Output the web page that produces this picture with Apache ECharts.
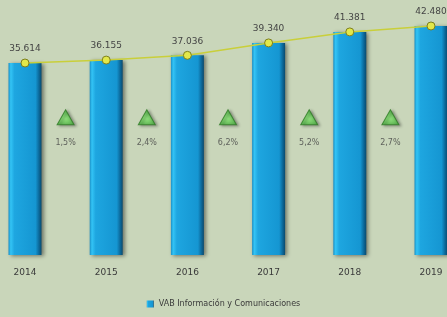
<!DOCTYPE html>
<html><head><meta charset="utf-8">
<script src="https://cdn.jsdelivr.net/npm/echarts@6/dist/echarts.min.js"></script>
<style>html,body{margin:0;padding:0;background:#c9d6ba;}#c{width:447px;height:317px;}</style>
</head><body><div id="c"></div>
<script>
const years = ['2014','2015','2016','2017','2018','2019'];
const vab = [35614, 36155, 37036, 39340, 41381, 42480];
const gapLabels = ['1,5%','2,4%','6,2%','5,2%','2,7%'];
const growth = [1.5, 2.4, 6.2, 5.2, 2.7];
const seriesName = 'VAB Información y Comunicaciones';

const fmt = v => { const s = String(v); return s.slice(0, s.length-3) + '.' + s.slice(-3); };

const chart = echarts.init(document.getElementById('c'));
chart.setOption({
  backgroundColor: '#c9d6ba',
  animation: false,
  textStyle: { fontFamily: 'DejaVu Sans' },
  grid: { left: 25, right: 16, top: 0, bottom: 62, containLabel: false },
  xAxis: [
    { type: 'category', data: years, boundaryGap: false,
      axisLine: { show: false }, axisTick: { show: false }, splitLine: { show: false },
      axisLabel: { color: '#3a3a3a', fontSize: 9, margin: 13 } },
    { type: 'category', data: gapLabels, boundaryGap: true, show: false, position: 'bottom' }
  ],
  yAxis: [
    { type: 'value', min: 0, max: 47300, show: false },
    { type: 'value', min: 0, max: 100, show: false }
  ],
  legend: {
    bottom: 4, left: 'center', itemWidth: 7, itemHeight: 7, itemGap: 4,
    data: [{ name: seriesName, icon: 'rect' }],
    textStyle: { color: '#3a3a3a', fontSize: 8 }
  },
  series: [
    { name: seriesName, type: 'bar', data: vab, barWidth: 33, xAxisIndex: 0, yAxisIndex: 0,
      itemStyle: {
        color: new echarts.graphic.LinearGradient(0, 0, 1, 0, [
          { offset: 0, color: '#1a8fc6' },
          { offset: 0.07, color: '#33c4f5' },
          { offset: 0.18, color: '#1ea6e0' },
          { offset: 0.82, color: '#1596d2' },
          { offset: 0.92, color: '#0c6a9c' },
          { offset: 1, color: '#0a4a6e' }
        ]),
        shadowColor: 'rgba(0,0,0,0.45)', shadowBlur: 4, shadowOffsetX: 2, shadowOffsetY: 1
      }
    },
    { name: 'line', type: 'line', data: vab, xAxisIndex: 0, yAxisIndex: 0,
      symbol: 'circle', symbolSize: 8, z: 5,
      lineStyle: { color: '#c9cf3a', width: 1.5 },
      itemStyle: { color: '#e2e84a', borderColor: '#7d7f1e', borderWidth: 1 },
      label: { show: true, position: 'top', distance: 5, color: '#444', fontSize: 9,
        formatter: p => fmt(p.value) }
    },
    { name: 'growth', type: 'scatter', xAxisIndex: 1, yAxisIndex: 1,
      data: growth.map((g, i) => ({ value: [i, 54], g: g })),
      symbol: 'triangle', symbolSize: [17, 15],
      itemStyle: {
        color: new echarts.graphic.RadialGradient(0.5, 0.6, 0.6, [
          { offset: 0, color: '#8ff07a' },
          { offset: 1, color: '#3dae35' }
        ]),
        borderColor: '#2f7a26', borderWidth: 1,
        shadowColor: 'rgba(0,0,0,0.4)', shadowBlur: 3, shadowOffsetX: 2, shadowOffsetY: 1
      },
      label: { show: true, position: 'bottom', distance: 14, color: '#444', fontSize: 8,
        formatter: p => gapLabels[p.dataIndex] }
    }
  ]
});
</script></body></html>
